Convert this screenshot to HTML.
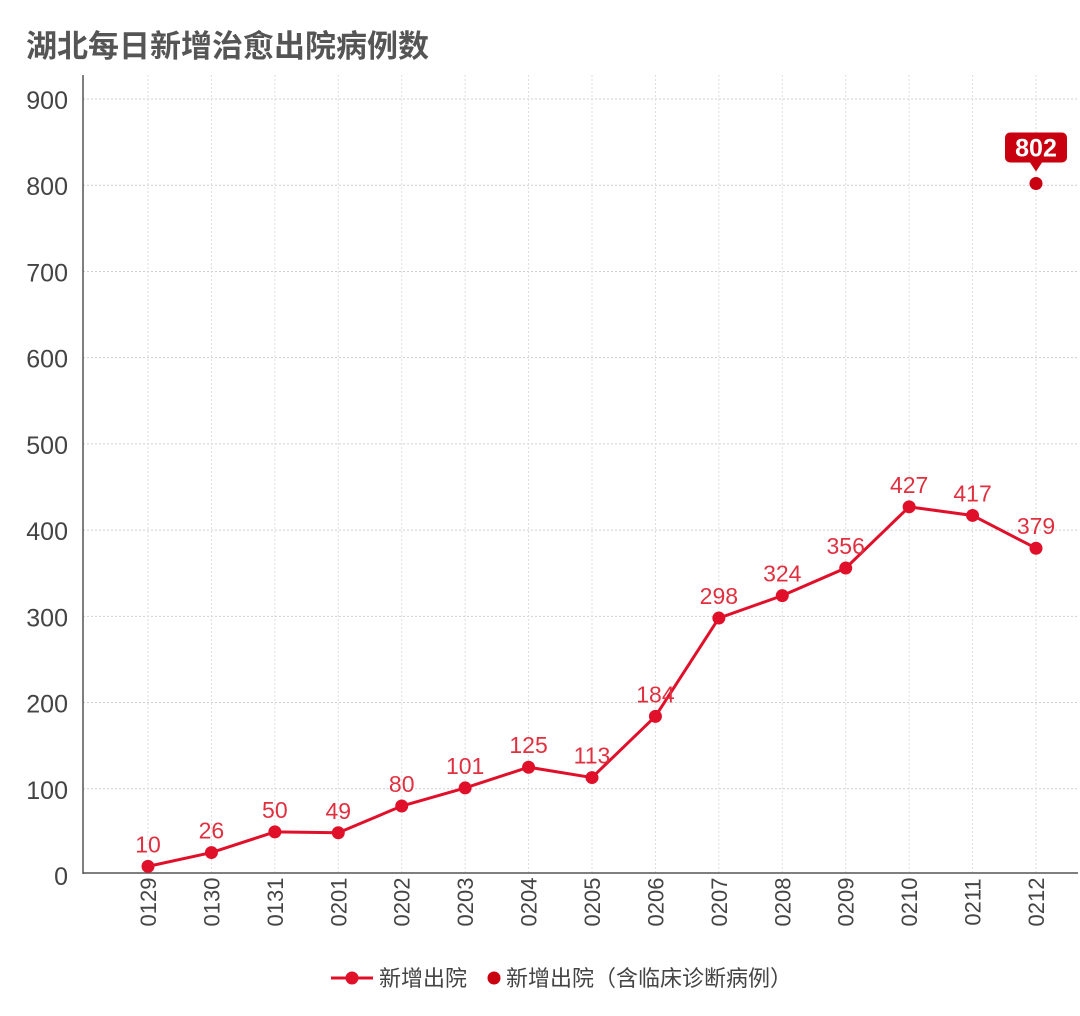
<!DOCTYPE html>
<html><head><meta charset="utf-8"><style>
body{margin:0;background:#fff;width:1080px;height:1016px;overflow:hidden}
svg{display:block;font-family:"Liberation Sans","Noto Sans CJK SC",sans-serif}
</style></head><body>
<svg id="c" width="1080" height="1016">
<text x="26" y="57" font-size="31" font-weight="bold" fill="#555">湖北每日新增治愈出院病例数</text>
<g id="grid"></g><g id="axes"></g><g id="marks"></g>
<g>
<line x1="331" y1="978" x2="373" y2="978" stroke="#e0102a" stroke-width="3"/>
<circle cx="352" cy="978" r="6.5" fill="#e0102a"/>
<text x="379" y="986" font-size="22" fill="#444">新增出院</text>
<circle cx="494" cy="978" r="6.5" fill="#c80010"/>
<text x="506" y="986" font-size="22" fill="#444">新增出院（含临床诊断病例）</text>
</g>
</svg>
<script>
const categories=["0129","0130","0131","0201","0202","0203","0204","0205","0206","0207","0208","0209","0210","0211","0212"];
const discharged=[10,26,50,49,80,101,125,113,184,298,324,356,427,417,379];
const clinicalCategory=["0212"];
const clinicalValues=[802];
const yTicks=[0,100,200,300,400,500,600,700,800,900];
const NS="http://www.w3.org/2000/svg";
function el(t,a,p){const e=document.createElementNS(NS,t);for(const k in a)e.setAttribute(k,a[k]);p.appendChild(e);return e;}
const x=i=>148+i*(1036-148)/14;
const y=v=>875-v*(875-99)/900;
const grid=document.getElementById('grid'),axes=document.getElementById('axes'),marks=document.getElementById('marks');
yTicks.forEach(v=>{
  if(v>0){const l=el('line',{x1:83,x2:1078,y1:y(v),y2:y(v),stroke:'#cfcfcf','stroke-dasharray':'2,2'},grid);
  
  }
  const t=el('text',{x:68,y:y(v)+10,'text-anchor':'end','font-size':25,fill:'#444'},axes);t.textContent=v;
  
  
});
categories.forEach((c,i)=>{
  const l=el('line',{x1:x(i),x2:x(i),y1:75,y2:873,stroke:'#dedede','stroke-dasharray':'2,2'},grid);
  
  
  const t=el('text',{x:0,y:0,transform:`translate(${x(i)+8},${902}) rotate(-90)`,'text-anchor':'middle','font-size':22,fill:'#444'},axes);t.textContent=c;
  
  
});
const ya=el('line',{x1:83,x2:83,y1:75,y2:874,stroke:'#555','stroke-width':1.5},axes);


const xa=el('line',{x1:83,x2:1078,y1:873,y2:873,stroke:'#555','stroke-width':1.5},axes);


const pl=el('polyline',{points:discharged.map((v,i)=>x(i)+','+y(v)).join(' '),fill:'none',stroke:'#e0102a','stroke-width':3},marks);


discharged.forEach((v,i)=>{
  const c=el('circle',{cx:x(i),cy:y(v),r:6.5,fill:'#e0102a'},marks);
  
  
  const t=el('text',{x:x(i),y:y(v)-14,'text-anchor':'middle','font-size':23,fill:'#e03040'},marks);t.textContent=v;
  
  
});
clinicalValues.forEach((v,j)=>{
  const i=categories.indexOf(clinicalCategory[j]);const cx=x(i),cy=y(v);
  const c=el('circle',{cx:cx,cy:cy,r:6.5,fill:'#c80010'},marks);
  
  
  const b=el('path',{d:`M${cx-26} ${cy-51} h52 a5 5 0 0 1 5 5 v20 a5 5 0 0 1 -5 5 h-20 l-6 9 l-6 -9 h-20 a5 5 0 0 1 -5 -5 v-20 a5 5 0 0 1 5 -5z`,fill:'#c80010'},marks);
  
  
  const t=el('text',{x:cx,y:cy-27,'text-anchor':'middle','font-size':25,'font-weight':'bold',fill:'#fff'},marks);t.textContent=v;
  
  
});
</script>
</body></html>
